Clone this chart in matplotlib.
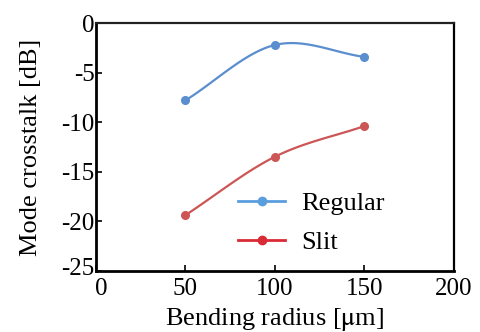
import numpy as np
import matplotlib
matplotlib.use("Agg")
import matplotlib.pyplot as plt
import matplotlib.transforms as mtransforms
from matplotlib.lines import Line2D

plt.rcParams['font.family'] = ['Liberation Serif', 'DejaVu Serif']
plt.rcParams['mathtext.fontset'] = 'stix'
plt.rcParams['axes.unicode_minus'] = False

radius = [50, 100, 150]
regular = [-7.8, -2.2, -3.4]
slit = [-19.4, -13.5, -10.4]


def smooth(xs, ys, n=40):
    # catmull-rom through the points, like a spreadsheet "smoothed line"
    p = np.column_stack([xs, ys]).astype(float)
    p = np.vstack([p[0] * 2 - p[1], p, p[-1] * 2 - p[-2]])
    out = []
    for i in range(1, len(p) - 2):
        p0, p1, p2, p3 = p[i - 1], p[i], p[i + 1], p[i + 2]
        t = np.linspace(0, 1, n)[:, None]
        seg = 0.5 * ((2 * p1) + (-p0 + p2) * t + (2 * p0 - 5 * p1 + 4 * p2 - p3) * t**2
                     + (-p0 + 3 * p1 - 3 * p2 + p3) * t**3)
        out.append(seg)
    out = np.vstack(out)
    return out[:, 0], out[:, 1]


fig, ax = plt.subplots(figsize=(4.8, 3.32), dpi=100)
fig.subplots_adjust(left=0.2, right=0.945, top=0.93, bottom=0.185)

c_reg = "#5a8ecf"
c_slit = "#cc5656"

sx, sy = smooth(radius, regular)
ax.plot(sx, sy, color=c_reg, lw=1.6)
ax.plot(radius, regular, 'o', color=c_reg, ms=5.5)
sx, sy = smooth(radius, slit)
ax.plot(sx, sy, color=c_slit, lw=1.6)
ax.plot(radius, slit, 'o', color=c_slit, ms=5.5)

ax.set_xlim(0, 200)
ax.set_ylim(-25, 0)
ax.set_xticks([0, 50, 100, 150, 200])
ax.set_yticks([0, -5, -10, -15, -20, -25])
ax.tick_params(direction='in', length=4, width=1.2, labelsize=18, pad=1,
               top=False, right=False)
ax.tick_params(axis='x', pad=5)

# keep the corner labels "-25" and "0" from running into each other
xl0 = ax.get_xticklabels()[0]
xl0.set_transform(xl0.get_transform() + mtransforms.ScaledTranslation(4 / 72, 0, fig.dpi_scale_trans))
yl0 = ax.get_yticklabels()[-1]
yl0.set_transform(yl0.get_transform() + mtransforms.ScaledTranslation(0, 3 / 72, fig.dpi_scale_trans))

for s in ['left', 'bottom']:
    ax.spines[s].set_linewidth(2)
ax.spines['top'].set_linewidth(1.6)
ax.spines['top'].set_color('#222222')
ax.spines['right'].set_linewidth(1.6)

ax.set_xlabel(r"Bending radius [$\mathrm{\mu}$m]", fontsize=19, labelpad=5)
ax.set_ylabel("Mode crosstalk [dB]", fontsize=19, labelpad=14)

handles = [Line2D([], [], color="#5a9ede", marker='o', ms=6, lw=2),
           Line2D([], [], color="#d92a35", marker='o', ms=6, lw=2)]
ax.legend(handles, ["Regular", "Slit"], frameon=False, fontsize=19,
          loc='lower left', bbox_to_anchor=(0.33, -0.03), handlelength=1.8,
          handletextpad=0.6, labelspacing=0.6)

fig.savefig("out.png", dpi=100)
